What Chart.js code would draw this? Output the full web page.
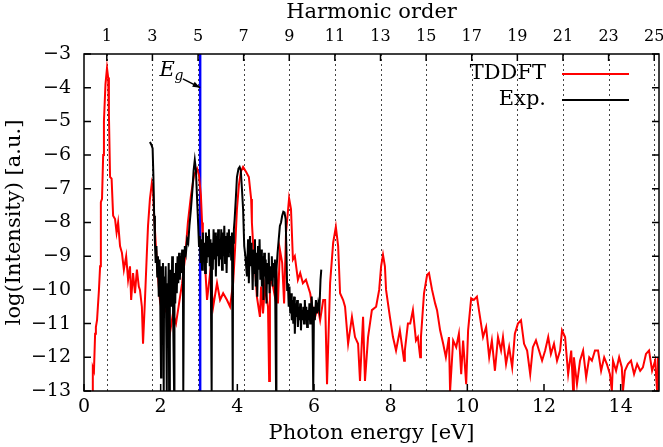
<!DOCTYPE html>
<html>
<head>
<meta charset="utf-8">
<script src="https://cdn.jsdelivr.net/npm/chart.js@4.4.1/dist/chart.umd.min.js"></script>
<style>
  body { margin: 0; background: #fff; }
</style>
</head>
<body>
<canvas id="grafico" width="663" height="447"></canvas>
<script>
// eixos
var energyTicks = [0, 2, 4, 6, 8, 10, 12, 14];
var harmonicTicks = [1, 3, 5, 7, 9, 11, 13, 15, 17, 19, 21, 23, 25];
var logTicks = [-13, -12, -11, -10, -9, -8, -7, -6, -5, -4, -3];
var omega = 0.595;     // eV por ordem harmonica
var gapEnergy = 3.03;  // E_g

// TDDFT (vermelho)
var tddftEnergy = [0.21,0.23,0.26,0.29,0.31,0.34,0.39,0.42,0.44,0.47,0.50,0.52,0.56,0.60,0.63,0.65,0.68,0.72,0.76,0.81,
  0.85,0.89,0.94,0.99,1.04,1.10,1.15,1.20,1.23,1.28,1.33,1.38,1.43,1.46,1.51,1.54,1.59,1.64,1.67,1.72,
  1.77,1.80,1.83,1.88,1.93,1.98,2.06,2.14,2.24,2.32,2.40,2.48,2.56,2.64,2.71,2.79,2.87,2.95,3.00,3.05,
  3.08,3.10,3.16,3.21,3.29,3.37,3.47,3.55,3.63,3.73,3.81,3.89,3.94,3.99,4.04,4.09,4.15,4.23,4.30,4.36,
  4.38,4.41,4.46,4.51,4.59,4.62,4.67,4.72,4.80,4.83,4.85,4.93,4.98,5.01,5.06,5.11,5.17,5.22,5.27,5.35,
  5.40,5.45,5.50,5.58,5.64,5.71,5.79,5.90,5.97,6.03,6.10,6.16,6.24,6.29,6.34,6.42,6.50,6.57,6.63,6.68,
  6.76,6.81,6.89,6.99,7.07,7.15,7.20,7.28,7.33,7.41,7.51,7.62,7.70,7.75,7.80,7.85,7.88,7.98,8.06,8.14,
  8.24,8.35,8.37,8.45,8.51,8.58,8.66,8.71,8.77,8.79,8.87,8.95,9.00,9.08,9.16,9.21,9.29,9.37,9.44,9.52,
  9.55,9.63,9.71,9.78,9.84,9.89,9.97,10.02,10.10,10.17,10.25,10.33,10.41,10.49,10.57,10.64,10.72,10.80,10.88,10.93,
  11.01,11.09,11.17,11.24,11.32,11.40,11.48,11.56,11.64,11.71,11.79,11.87,11.95,12.03,12.11,12.18,12.26,12.34,12.42,12.47,
  12.55,12.63,12.71,12.76,12.78,12.86,12.94,13.02,13.10,13.18,13.25,13.33,13.41,13.49,13.57,13.64,13.72,13.77,13.80,13.88,
  13.96,14.03,14.06,14.11,14.19,14.27,14.35,14.43,14.51,14.58,14.66,14.74,14.82,14.90,14.95,14.97];
var tddftLog = [-13,-12.3,-12.4,-11.3,-11.1,-10.9,-10.0,-9.3,-7.4,-7.3,-6.0,-5.0,-3.9,-3.42,-3.7,-4.8,-6.65,-6.7,-7.8,-7.9,
  -8.3,-8.0,-8.7,-8.9,-9.4,-9.0,-9.7,-9.3,-10.3,-9.5,-10.1,-9.4,-9.9,-10.0,-10.5,-11.6,-10.3,-8.9,-8.1,-7.3,
  -6.83,-7.0,-7.8,-8.8,-9.6,-10.3,-10.8,-10.5,-11.3,-10.7,-11.0,-10.4,-9.8,-9.0,-8.0,-7.2,-6.6,-6.4,-6.6,-7.2,
  -8.0,-8.5,-9.3,-10.3,-9.5,-10.5,-9.8,-10.3,-10.1,-10.3,-10.5,-9.8,-8.8,-7.6,-6.9,-6.5,-6.35,-6.5,-6.65,-7.3,
  -8.0,-8.6,-9.3,-10.2,-10.8,-9.9,-10.7,-9.9,-10.5,-12.7,-9.6,-9.9,-10.2,-9.3,-10.4,-8.8,-9.2,-10.4,-8.3,-7.28,
  -7.6,-9.1,-9.0,-9.7,-9.5,-9.8,-9.7,-10.1,-10.6,-10.8,-10.5,-10.9,-10.3,-10.3,-12.8,-9.8,-8.6,-8.13,-8.7,-10.1,
  -10.3,-10.5,-11.6,-10.8,-11.4,-11.6,-12.7,-10.8,-12.7,-11.4,-10.6,-10.5,-10.0,-9.3,-8.96,-9.3,-10.0,-10.8,-11.4,-11.8,
  -11.2,-12.1,-11.8,-11.0,-11.0,-10.6,-11.5,-11.4,-12.0,-11.4,-10.1,-9.56,-9.5,-10.0,-10.4,-10.6,-11.2,-11.6,-12.0,-11.4,
  -13.0,-11.5,-11.7,-11.3,-12.5,-11.5,-12.8,-11.2,-10.25,-10.3,-10.2,-10.8,-11.4,-11.1,-12.0,-11.5,-12.4,-11.4,-11.8,-11.4,
  -12.2,-11.7,-12.3,-11.3,-11.0,-10.9,-11.6,-11.8,-12.5,-11.7,-11.5,-11.8,-12.1,-11.8,-11.4,-11.9,-11.6,-12.1,-11.8,-11.2,
  -11.4,-12.5,-11.8,-13.0,-12.0,-12.8,-12.1,-11.8,-12.6,-12.0,-12.1,-11.8,-11.8,-12.4,-12.0,-12.2,-12.5,-13.0,-12.1,-12.4,
  -12.0,-12.3,-13.0,-12.4,-12.2,-12.1,-12.5,-12.2,-12.4,-12.3,-11.9,-11.8,-12.4,-12.1,-13.0,-12.0];

// Experimento (preto)
var expEnergy = [1.72,1.76,1.79,1.81,1.83,1.85,1.87,1.89,1.91,1.93,1.95,1.97,1.99,2.01,2.02,2.04,2.06,2.08,2.09,2.11,
  2.13,2.16,2.17,2.19,2.21,2.22,2.24,2.26,2.28,2.30,2.32,2.35,2.36,2.38,2.40,2.42,2.44,2.46,2.48,2.50,
  2.52,2.54,2.56,2.58,2.59,2.61,2.63,2.66,2.69,2.72,2.75,2.79,2.83,2.86,2.89,2.92,2.95,2.98,3.00,3.02,
  3.04,3.06,3.08,3.10,3.12,3.14,3.16,3.18,3.20,3.22,3.24,3.26,3.28,3.30,3.33,3.34,3.36,3.38,3.40,3.42,
  3.44,3.46,3.48,3.50,3.52,3.54,3.56,3.58,3.60,3.62,3.64,3.66,3.68,3.70,3.72,3.74,3.76,3.78,3.80,3.82,
  3.84,3.86,3.88,3.89,3.91,3.93,3.96,3.99,4.03,4.06,4.09,4.12,4.15,4.18,4.21,4.25,4.28,4.30,4.33,4.35,
  4.37,4.40,4.42,4.44,4.46,4.48,4.50,4.52,4.54,4.56,4.58,4.60,4.62,4.64,4.66,4.68,4.70,4.72,4.74,4.76,
  4.78,4.80,4.82,4.84,4.86,4.88,4.90,4.92,4.94,4.96,4.98,5.01,5.02,5.05,5.08,5.11,5.14,5.17,5.20,5.23,
  5.26,5.28,5.30,5.32,5.34,5.36,5.38,5.40,5.42,5.44,5.46,5.48,5.50,5.52,5.54,5.56,5.58,5.60,5.62,5.64,
  5.66,5.68,5.70,5.72,5.74,5.76,5.78,5.80,5.82,5.84,5.86,5.88,5.90,5.92,5.94,5.96,5.98,6.00,6.02,6.05,
  6.08,6.11,6.14,6.17,6.19];
var expLog = [-5.61,-5.7,-5.8,-6.6,-7.8,-8.6,-9.2,-8.7,-9.6,-9.0,-10.2,-9.1,-10.4,-12.6,-9.3,-10.1,-9.2,-13.0,-9.6,-10.5,
  -9.3,-13.0,-9.8,-10.6,-9.2,-13.0,-10.0,-9.4,-10.5,-9.0,-10.3,-13.0,-9.5,-10.4,-9.2,-10.1,-9.0,-9.8,-8.9,-9.7,
  -9.0,-9.5,-8.8,-9.3,-13.0,-9.0,-8.7,-8.9,-8.5,-8.6,-8.1,-7.6,-7.0,-6.45,-6.15,-6.45,-7.3,-8.1,-8.7,-8.4,
  -9.2,-8.5,-9.4,-8.3,-9.1,-8.6,-9.5,-8.3,-9.2,-8.4,-9.0,-8.2,-9.3,-8.5,-13.0,-8.6,-9.4,-8.2,-9.1,-8.3,
  -9.6,-8.4,-9.0,-8.2,-9.3,-8.5,-9.1,-8.2,-9.4,-8.3,-9.0,-8.1,-9.2,-8.4,-9.5,-8.3,-9.0,-8.2,-8.9,-8.4,
  -9.1,-8.3,-13.0,-8.6,-8.2,-7.9,-7.3,-6.65,-6.4,-6.35,-6.45,-7.0,-7.6,-8.7,-9.0,-9.6,-8.5,-9.8,-8.4,-9.3,
  -8.6,-10.0,-8.8,-9.5,-8.5,-9.9,-8.9,-10.2,-8.7,-9.4,-8.5,-9.7,-8.8,-9.9,-9.0,-10.3,-8.9,-9.6,-9.1,-10.4,
  -9.2,-9.8,-8.9,-10.1,-9.3,-9.7,-9.0,-9.9,-9.2,-9.6,-9.1,-13.0,-9.4,-8.9,-8.5,-8.1,-8.0,-7.8,-7.68,-7.7,
  -7.9,-8.8,-10.0,-9.8,-10.5,-9.9,-10.7,-10.1,-10.9,-10.3,-11.0,-10.2,-11.3,-10.4,-10.8,-10.3,-11.1,-10.5,-10.9,-10.4,
  -11.2,-10.6,-10.9,-10.5,-11.0,-10.3,-10.8,-10.5,-11.1,-10.6,-10.9,-10.4,-11.0,-10.6,-10.2,-10.8,-13.0,-10.5,-10.9,-10.3,
  -10.7,-10.4,-10.6,-9.7,-9.4];

var fonte = 'DejaVu Serif';

function pontos(xs, ys) {
    return xs.map(function (x, i) { return { x: x, y: ys[i] }; });
}

// sem folga extra dos rotulos nas pontas
function semFolga(sc) {
    sc.paddingLeft = 0;
    sc.paddingRight = 0;
    sc.paddingTop = 0;
    sc.paddingBottom = 0;
}

// moldura, tracos internos, linhas das harmonicas, legenda e E_g
var enfeites = {
    id: 'enfeites',
    beforeDatasetsDraw: function (chart) {
        var ctx = chart.ctx, a = chart.chartArea, s = chart.scales;
        ctx.save();
        ctx.strokeStyle = '#444';
        ctx.lineWidth = 1;
        ctx.setLineDash([2, 3]);
        harmonicTicks.forEach(function (n) {
            var x = Math.round(s.x2.getPixelForValue(n)) + 0.5;
            ctx.beginPath();
            ctx.moveTo(x, a.top);
            ctx.lineTo(x, a.bottom);
            ctx.stroke();
        });
        ctx.restore();
    },
    afterDatasetsDraw: function (chart) {
        var ctx = chart.ctx, a = chart.chartArea, s = chart.scales;
        var t = 7;
        ctx.save();
        ctx.strokeStyle = '#000';
        ctx.lineWidth = 1.5;
        ctx.strokeRect(a.left, a.top, a.right - a.left, a.bottom - a.top);
        ctx.beginPath();
        logTicks.forEach(function (v) {
            var y = s.y.getPixelForValue(v);
            ctx.moveTo(a.left, y); ctx.lineTo(a.left + t, y);
            ctx.moveTo(a.right, y); ctx.lineTo(a.right - t, y);
        });
        energyTicks.forEach(function (v) {
            var x = s.x.getPixelForValue(v);
            ctx.moveTo(x, a.bottom); ctx.lineTo(x, a.bottom - t);
        });
        harmonicTicks.forEach(function (n) {
            var x = s.x2.getPixelForValue(n);
            ctx.moveTo(x, a.top); ctx.lineTo(x, a.top + t);
        });
        ctx.stroke();

        // legenda
        ctx.font = '21px "' + fonte + '"';
        ctx.fillStyle = '#000';
        ctx.textAlign = 'right';
        ctx.textBaseline = 'middle';
        var itens = [['TDDFT', 'red', 74], ['Exp.', 'black', 100]];
        itens.forEach(function (it) {
            ctx.fillText(it[0], 546, it[2]);
            ctx.strokeStyle = it[1];
            ctx.lineWidth = 2;
            ctx.beginPath();
            ctx.moveTo(562, it[2]);
            ctx.lineTo(629, it[2]);
            ctx.stroke();
        });

        // E_g
        var ex = s.x.getPixelForValue(1.97), ey = s.y.getPixelForValue(-3.65);
        ctx.textAlign = 'left';
        ctx.textBaseline = 'alphabetic';
        ctx.font = 'italic 21px "' + fonte + '"';
        ctx.fillText('E', ex, ey);
        ctx.font = 'italic 14px "' + fonte + '"';
        ctx.fillText('g', ex + 15, ey + 4);
        var x0 = s.x.getPixelForValue(2.58), y0 = s.y.getPixelForValue(-3.74);
        var x1 = s.x.getPixelForValue(gapEnergy), y1 = s.y.getPixelForValue(-4.0);
        ctx.strokeStyle = '#000';
        ctx.lineWidth = 1.5;
        ctx.beginPath();
        ctx.moveTo(x0, y0);
        ctx.lineTo(x1, y1);
        ctx.stroke();
        var ang = Math.atan2(y1 - y0, x1 - x0);
        ctx.beginPath();
        ctx.moveTo(x1, y1);
        ctx.lineTo(x1 - 8 * Math.cos(ang - 0.35), y1 - 8 * Math.sin(ang - 0.35));
        ctx.lineTo(x1 - 8 * Math.cos(ang + 0.35), y1 - 8 * Math.sin(ang + 0.35));
        ctx.closePath();
        ctx.fillStyle = '#000';
        ctx.fill();
        ctx.restore();
    }
};

let ctx = document.getElementById('grafico').getContext('2d');
let grafico = new Chart(ctx, {
    type: 'line',
    data: {
        datasets: [{
            label: 'Exp.',
            data: pontos(expEnergy, expLog),
            borderColor: 'black',
            borderWidth: 2,
            order: 0
        }, {
            label: 'TDDFT',
            data: pontos(tddftEnergy, tddftLog),
            borderColor: 'red',
            borderWidth: 2,
            order: 1
        }, {
            label: 'Eg',
            data: [{ x: gapEnergy, y: -13 }, { x: gapEnergy, y: -3 }],
            borderColor: 'blue',
            borderWidth: 2.5,
            order: 2
        }]
    },
    options: {
        responsive: false,
        animation: false,
        devicePixelRatio: 1,
        layout: { padding: { left: 0, right: 4, top: 0, bottom: 0 } },
        elements: { point: { radius: 0 }, line: { tension: 0 } },
        plugins: { legend: { display: false }, tooltip: { enabled: false } },
        scales: {
            x: {
                type: 'linear',
                position: 'bottom',
                min: 0,
                max: 15,
                afterBuildTicks: function (sc) { sc.ticks = energyTicks.map(function (v) { return { value: v }; }); },
                afterFit: function (sc) { sc.height = 56; semFolga(sc); },
                grid: { display: false, drawTicks: false },
                border: { display: false },
                ticks: { padding: 5, color: '#000', font: { family: fonte, size: 19 } },
                title: { display: true, text: 'Photon energy [eV]', color: '#000', padding: { bottom: 1 }, font: { family: fonte, size: 21 } }
            },
            x2: {
                type: 'linear',
                position: 'top',
                min: 0,
                max: 15 / omega,
                afterBuildTicks: function (sc) { sc.ticks = harmonicTicks.map(function (v) { return { value: v }; }); },
                afterFit: function (sc) { sc.height = 54; semFolga(sc); },
                grid: { display: false, drawTicks: false },
                border: { display: false },
                ticks: { padding: 8, color: '#000', font: { family: fonte, size: 16 } },
                title: { display: true, text: 'Harmonic order', color: '#000', padding: { top: 0 }, font: { family: fonte, size: 21 } }
            },
            y: {
                type: 'linear',
                min: -13,
                max: -3,
                afterBuildTicks: function (sc) { sc.ticks = logTicks.map(function (v) { return { value: v }; }); },
                afterFit: function (sc) { sc.width = 84; semFolga(sc); },
                grid: { display: false, drawTicks: false },
                border: { display: false },
                ticks: {
                    padding: 13,
                    color: '#000',
                    font: { family: fonte, size: 19 },
                    callback: function (v) { return v < 0 ? '\u2212' + Math.abs(v) : String(v); }
                },
                title: { display: true, text: 'log(Intensity) [a.u.]', color: '#000', padding: { top: 2 }, font: { family: fonte, size: 21 } }
            }
        }
    },
    plugins: [enfeites]
});
</script>
</body>
</html>
